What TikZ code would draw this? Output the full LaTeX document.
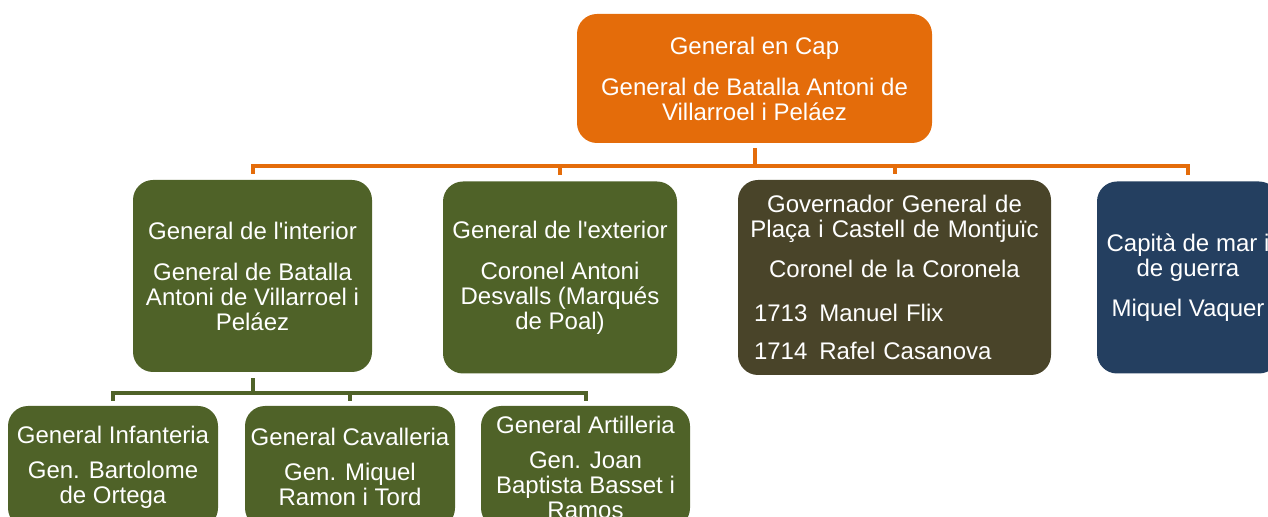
\documentclass[tikz,border=0pt]{standalone}
\usepackage{fontspec}
\setmainfont{Liberation Sans}
\usetikzlibrary{positioning,calc}
\usepackage{xcolor}
\definecolor{capOrange}{HTML}{E46C0A}
\definecolor{armyGreen}{HTML}{4F6228}
\definecolor{plazaBrown}{HTML}{494429}
\definecolor{navyBlue}{HTML}{243F60}
\tikzset{
  unit/.style={rounded corners=10pt,text=white,align=center,inner sep=0pt,
    font=\fontsize{12}{12.5}\selectfont},
  oline/.style={capOrange,line width=2pt},
  gline/.style={armyGreen,line width=2pt}
}
\begin{document}
\begin{tikzpicture}[x=0.5pt,y=-0.5pt]
\useasboundingbox (0,0) rectangle (1268,517);
\clip (0,0) rectangle (1268,517);
\node (cap) [unit,fill=capOrange,minimum width=177.5pt,minimum height=64.5pt] at (754.5,78.5)
 {General en Cap\\[8pt]General de Batalla Antoni de\\Villarroel i Pel\'aez};
\node (interior) [unit,fill=armyGreen,minimum width=119.5pt,minimum height=96pt] at (252.5,276)
 {General de l\textquotesingle interior\\[8pt]General de Batalla\\Antoni de Villarroel i\\Pel\'aez};
\node (exterior) [unit,fill=armyGreen,minimum width=117pt,minimum height=96pt] at (560,277.5)
 {General de l\textquotesingle exterior\\[8pt]Coronel Antoni\\Desvalls (Marqu\'es\\de Poal)};
\node (plaza) [unit,fill=plazaBrown,minimum width=156.5pt,minimum height=97.5pt,text width=148pt] at (894.5,277.5)
 {Governador General de\\Pla\c{c}a i Castell de Montju\"ic\\[7.5pt]Coronel de la Coronela\\[9.5pt]
  \makebox[\linewidth][l]{\hspace{3.75pt}1713\enspace Manuel Flix}\\[6.5pt]
  \makebox[\linewidth][l]{\hspace{3.75pt}1714\enspace Rafel Casanova}};
\node (mar) [unit,fill=navyBlue,minimum width=91pt,minimum height=96pt] at (1188,277.5)
 {Capit\`a de mar i\\de guerra\\[7.5pt]Miquel Vaquer};
\node (infanteria) [unit,fill=armyGreen,minimum width=105pt,minimum height=61pt] at (113,467)
 {General Infanteria\\[5pt]Gen. Bartolome\\de Ortega};
\node (cavalleria) [unit,fill=armyGreen,minimum width=105pt,minimum height=61pt] at (350,467)
 {General Cavalleria\\[5pt]Gen. Miquel\\Ramon i Tord};
\node (artilleria) [unit,fill=armyGreen,minimum width=104.5pt,minimum height=61pt] at (585.5,467)
 {General Artilleria\\[5pt]Gen. Joan\\Baptista Basset i\\Ramos};
\coordinate (obus) at (0,166);
\coordinate (gbus) at (0,393);
\draw[oline,shorten <=2.5pt] (cap.south) -- (cap.south |- obus);
\foreach \n in {interior,exterior,plaza,mar}
  \draw[oline,shorten <=3pt] (\n.north) |- (cap.south |- obus);
\draw[gline,shorten <=3pt] (interior.south) -- (interior.south |- gbus);
\foreach \n in {infanteria,cavalleria,artilleria}
  \draw[gline,shorten <=2.5pt] (\n.north) |- (interior.south |- gbus);
\end{tikzpicture}
\end{document}
